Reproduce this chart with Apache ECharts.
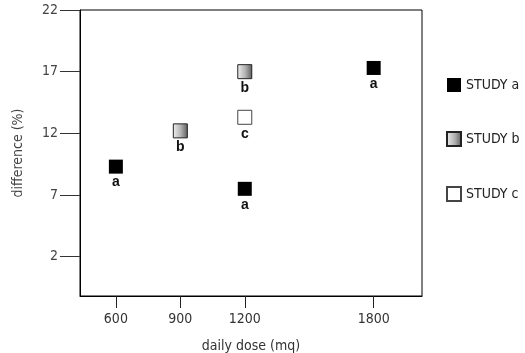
<!DOCTYPE html>
<html>
<head>
<meta charset="utf-8">
<script src="https://cdn.jsdelivr.net/npm/echarts@6/dist/echarts.min.js"></script>
<style>
html,body{margin:0;padding:0;background:#fff;}
#chart{width:525px;height:353px;}
</style>
</head>
<body>
<div id="chart"></div>
<script>
var seriesNames = ['STUDY a', 'STUDY b', 'STUDY c'];
var pointLabels = ['a', 'b', 'c'];
var studyA = [[600, 9.3], [1200, 7.5], [1800, 17.3]];
var studyB = [[900, 12.2], [1200, 17.0]];
var studyC = [[1200, 13.3]];
var xTicks = [600, 900, 1200, 1800];
var yTicks = [2, 7, 12, 17, 22];

var FONT = '"Liberation Sans Narrow", "DejaVu Sans Condensed", "Liberation Sans", Arial, sans-serif';

var fills = [
  '#000000',
  new echarts.graphic.LinearGradient(0, 0, 1, 0, [
    {offset: 0, color: '#f0f0f0'},
    {offset: 0.55, color: '#b0b0b0'},
    {offset: 1, color: '#5a5a5a'}
  ]),
  '#ffffff'
];
var borders = ['#000000', '#222222', '#444444'];
var datasets = [studyA, studyB, studyC];

var chart = echarts.init(document.getElementById('chart'), null, {renderer: 'canvas'});
chart.setOption({
  animation: false,
  backgroundColor: '#ffffff',
  grid: {left: 80, right: 103, top: 10, bottom: 57, outerBoundsMode: 'none', containLabel: false, show: true, borderColor: '#000', borderWidth: 1, backgroundColor: 'transparent'},
  legend: {
    orient: 'vertical',
    left: 446,
    top: 78,
    padding: 0,
    itemWidth: 14,
    itemHeight: 14,
    itemGap: 39,
    icon: 'rect',
    textStyle: {fontFamily: FONT, fontSize: 14, color: '#222'},
    data: seriesNames
  },
  xAxis: {
    type: 'value',
    min: 433,
    max: 2025,
    name: 'daily dose (mq)',
    nameLocation: 'middle',
    nameGap: 43,
    nameTextStyle: {fontFamily: FONT, fontSize: 14, color: '#333'},
    axisLine: {show: true, onZero: false, lineStyle: {color: '#000', width: 1}},
    axisTick: {show: true, length: 12, customValues: xTicks, lineStyle: {color: '#222'}},
    axisLabel: {customValues: xTicks, formatter: function (v) { return String(v); }, fontFamily: FONT, fontSize: 14, color: '#333', margin: 16},
    splitLine: {show: false}
  },
  yAxis: {
    type: 'value',
    min: -1.19,
    max: 22,
    name: 'difference (%)',
    nameLocation: 'middle',
    nameGap: 55,
    nameRotate: 90,
    nameTextStyle: {fontFamily: FONT, fontSize: 14, color: '#444'},
    axisLine: {show: true, onZero: false, lineStyle: {color: '#000', width: 1}},
    axisTick: {show: true, length: 20, customValues: yTicks, lineStyle: {color: '#333'}},
    axisLabel: {customValues: yTicks, formatter: function (v) { return String(v); }, fontFamily: FONT, fontSize: 14, color: '#444', margin: 22},
    splitLine: {show: false}
  },
  series: seriesNames.map(function (name, i) {
    return {
      name: name,
      type: 'scatter',
      symbol: 'rect',
      symbolSize: 14,
      data: datasets[i],
      itemStyle: {color: fills[i], borderColor: borders[i], borderWidth: i === 0 ? 0 : 1, opacity: 1},
      label: {
        show: true,
        position: 'bottom',
        distance: 2,
        formatter: pointLabels[i],
        fontFamily: '"Liberation Sans", Arial, sans-serif',
        fontWeight: 'bold',
        fontSize: 14,
        color: '#111'
      },
      emphasis: {disabled: true}
    };
  })
});
</script>
</body>
</html>
